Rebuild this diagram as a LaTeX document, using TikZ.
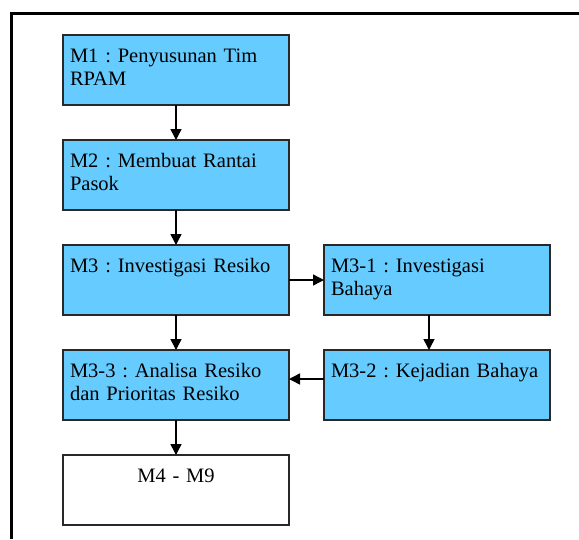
\documentclass[tikz,border=0pt]{standalone}
\usepackage{fontspec}
\setmainfont{Liberation Serif}
\usepackage{tikz}
\usetikzlibrary{arrows.meta,%
                shapes,positioning}
\definecolor{skyblue}{RGB}{102,204,255}
\definecolor{darkline}{RGB}{40,40,40}

\begin{document}
\begin{tikzpicture}[x = 1pt, y = -1pt, node distance = 35pt]
  \useasboundingbox (0,0) rectangle (579,539);
  \tikzset{BoxStyle/.style  = {shape          = rectangle,
                               draw           = darkline,
                               line width     = 1.5pt,
                               fill           = skyblue,
                               text           = black,
                               font           = \fontsize{20.5}{23}\selectfont\frenchspacing,
                               align          = left,
                               text width     = 212pt,
                               inner xsep     = 7pt,
                               inner ysep     = 0pt,
                               outer sep      = 0pt,
                               text height    = 27pt,
                               text depth     = 43pt}}
  \tikzset{EdgeStyle/.style = {line width     = 1.5pt,
                               draw           = black,
                               -{Triangle[length = 11pt, width = 11pt]}}}
  % outer frame
  \draw[line width = 3pt] (579,13.5) -- (11,13.5) -- (11,539);
     \node[BoxStyle,anchor = north west](M1) at (63,35) {M1 : Penyusunan Tim\\RPAM};
     \node[BoxStyle,below=of M1](M2){M2 : Membuat Rantai\\Pasok};
     \node[BoxStyle,below=of M2](M3){M3 : Investigasi Resiko};
     \node[BoxStyle,right=of M3](M31){M3-1 : Investigasi\\Bahaya};
     \node[BoxStyle,below=of M31](M32){M3-2 : Kejadian Bahaya};
     \node[BoxStyle,below=of M3](M33){M3-3 : Analisa Resiko\\dan Prioritas Resiko};
     \node[BoxStyle,below=of M33,fill = white,align = center](M4){M4 - M9};
     \draw[EdgeStyle](M1) -- (M2);
     \draw[EdgeStyle](M2) -- (M3);
     \draw[EdgeStyle](M3) -- (M31);
     \draw[EdgeStyle]([xshift=-8pt]M31.south) -- ([xshift=-8pt]M32.north);
     \draw[EdgeStyle]([yshift=6pt]M32.west) -- ([yshift=6pt]M33.east);
     \draw[EdgeStyle](M3) -- (M33);
     \draw[EdgeStyle](M33) -- (M4);
  \end{tikzpicture}
\end{document}
